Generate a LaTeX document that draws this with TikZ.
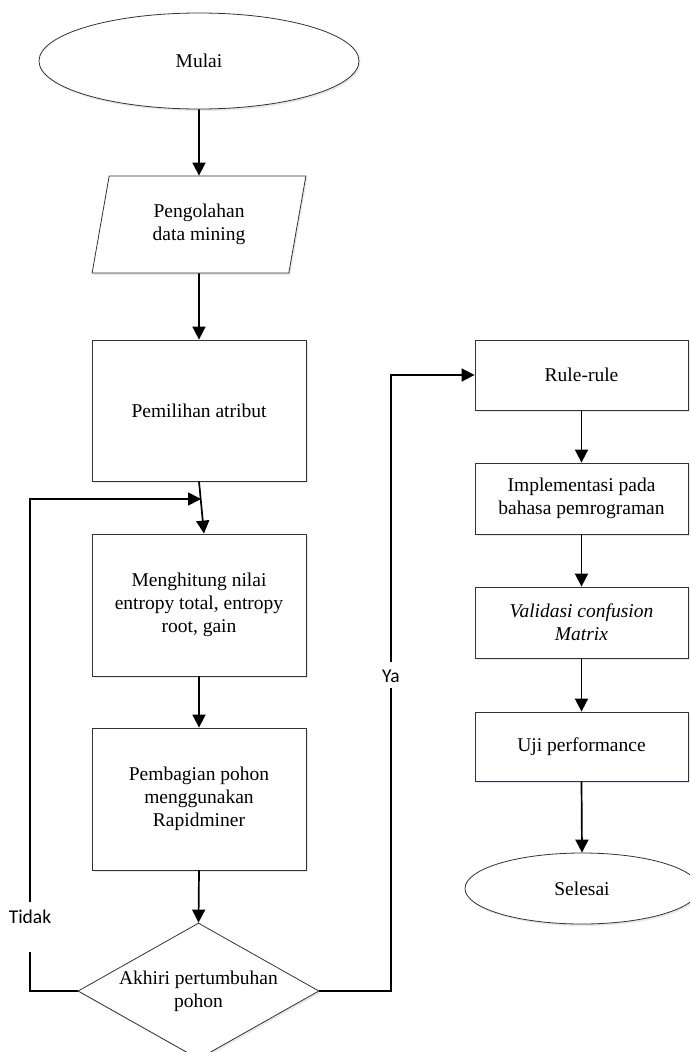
\documentclass[tikz,border=0pt]{standalone}
\usepackage{fontspec}
\setmainfont{Liberation Serif}
\newfontfamily\labelfont{Carlito}
\usetikzlibrary{shapes.geometric,arrows.meta,shadows}
\begin{document}
\begin{tikzpicture}[x=1pt,y=-1pt,
  shad/.style={drop shadow={shadow xshift=1.5pt,shadow yshift=-2pt,fill=blue!40!gray!30,opacity=0.45}},
  txt/.style={font=\fontsize{19.5}{23}\selectfont,align=center},
  box/.style={txt,draw=black!80,line width=0.8pt,fill=white,inner sep=0pt,shad},
  lbox/.style={box,minimum width=214pt},
  rbox/.style={box,minimum width=213pt},
  oval/.style={txt,ellipse,draw=black!80,line width=0.8pt,fill=white,inner sep=0pt,shad},
  arr/.style={line width=1.7pt,-{Triangle[length=13pt,width=13pt]}},
  ln/.style={line width=1.7pt},
  lab/.style={font=\labelfont\fontsize{19.5}{23}\selectfont,inner sep=0pt}]
\useasboundingbox (0,0) rectangle (689,1052);
\fill[white] (0,0) rectangle (689,1052);

% left column
\node[oval,minimum width=320pt,minimum height=96pt] (mulai) at (199,61) {Mulai};
\node[box,trapezium,trapezium left angle=77.8,trapezium right angle=102.2,
      trapezium stretches=true,minimum width=214pt,minimum height=97pt] (olah) at (199,224.5) {Pengolahan\\data mining};
\node[lbox,minimum height=141pt] (pem) at (199,410.5) {Pemilihan atribut};
\node[lbox,minimum height=142pt] (meng) at (199,605) {Menghitung nilai\\entropy total, entropy\\root, gain};
\node[lbox,minimum height=142pt] (pemb) at (199,799) {Pembagian pohon\\menggunakan\\Rapidminer};
\node[box,diamond,aspect=1.77,minimum width=241pt,minimum height=136pt] (dia) at (198.5,991) {Akhiri pertumbuhan\\pohon};

% right column
\node[rbox,minimum height=70pt] (rule) at (581.5,375) {Rule-rule};
\node[rbox,minimum height=71pt] (impl) at (581.5,498.5) {Implementasi pada\\bahasa pemrograman};
\node[rbox,minimum height=71pt] (valid) at (581.5,622.5) {\itshape Validasi confusion\\\itshape Matrix};
\node[rbox,minimum height=69pt] (uji) at (581.5,746.5) {Uji performance};
\node[oval,minimum width=234pt,minimum height=71pt] (selesai) at (582,888.5) {Selesai};

% labels
\node[lab] (tidak) at (30,917) {Tidak};
\node[lab] (ya) at (391,676) {Ya};

% connectors
\draw[arr] (mulai.south) -- (olah.north);
\draw[arr] (olah.south) -- (pem.north);
\draw[arr] (pem.south) -- ([xshift=5pt]meng.north);
\draw[arr] (meng.south) -- (pemb.north);
\draw[arr] (pemb.south) -- (dia.north);
\draw[arr] (rule.south) -- (impl.north);
\draw[arr] (impl.south) -- (valid.north);
\draw[arr] (valid.south) -- (uji.north);
\draw[arr] (uji.south) -- (selesai.north);

\coordinate (fb) at (201,499);
\coordinate (tl) at (30,499);
\coordinate (tidakB) at (30,952);
\coordinate (tidakT) at (30,902);
\draw[ln] (dia.west) -| (tidakB);
\draw[arr] (tidakT) -- (tl) -- (fb);

\coordinate (yaB) at (391,688);
\coordinate (yaT) at (391,662);
\draw[ln] (dia.east) -| (yaB);
\draw[arr] (yaT) |- (rule.west);
\end{tikzpicture}
\end{document}
